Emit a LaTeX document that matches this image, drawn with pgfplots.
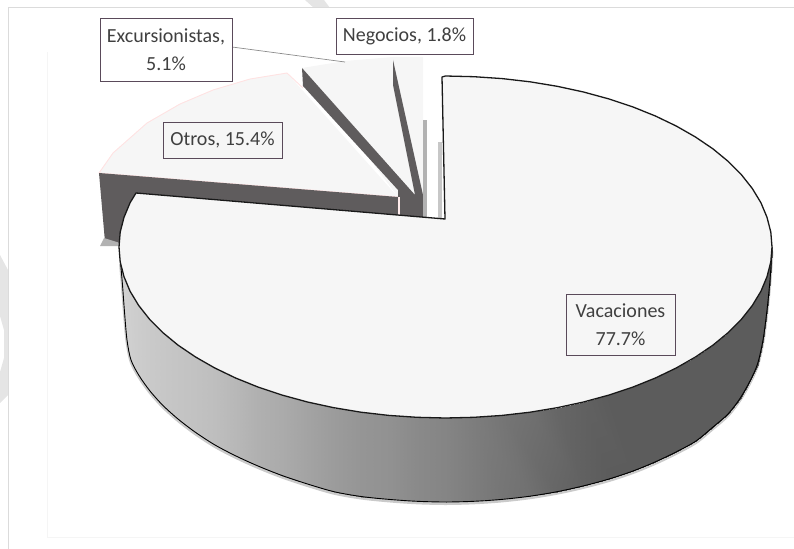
\documentclass[border=0pt]{standalone}
\usepackage{fontspec}
\setmainfont{Carlito}
\usepackage{pgfplots}
\usepackage{pgfplotstable}
\pgfplotsset{compat=1.18}
\definecolor{face}{HTML}{F6F6F6}
\definecolor{slicedark}{HTML}{5F5C5D}
\definecolor{boxline}{HTML}{5A4A5A}
\definecolor{txt}{HTML}{404040}
\tikzset{lbl/.style={draw=boxline, line width=0.9bp, text=txt, inner sep=0pt, align=center,
    font=\fontsize{20bp}{27.5bp}\selectfont}}

% wall of the big slice: rim point, foot point, grey value
\pgfplotstableread{
x y c
772 247 0.36
772 250 0.36
770.8 261.9 0.36
770 280 0.36
767 276.7 0.36
767 310 0.36
760.9 291.3 0.36
763 340 0.36
752.3 305.5 0.36
757.5 364 0.36
741.4 319.3 0.36
750 381 0.36
728.3 332.5 0.36
740 398.5 0.36
713 345.1 0.36
728 414 0.36
695.6 356.9 0.36
713 427 0.36
676.4 367.9 0.36
696 441 0.36
655.4 378 0.36
676 452 0.36
632.8 387.1 0.36
655 462 0.36
608.8 395.1 0.36
633 471 0.36
583.5 402 0.38
609 479 0.36
557.2 407.7 0.40
583 486 0.38
530 412.2 0.44
557 491.7 0.40
502.2 415.4 0.46
530 496.2 0.44
474 417.3 0.49
502 499.4 0.46
445.5 418 0.52
445.5 502 0.52
417 417.3 0.54
417 501.3 0.54
388.8 415.4 0.57
389 499.4 0.57
361 412.2 0.585
361 496.5 0.585
333.8 407.7 0.61
334 491.7 0.61
307.5 402 0.64
307.5 484 0.64
282.2 395.1 0.67
282 475.5 0.67
258.2 387.1 0.69
258 466 0.69
235.6 378 0.72
236 456 0.72
214.6 367.9 0.745
215 445 0.745
195.4 356.9 0.76
195 432 0.76
178 345.1 0.77
178 419 0.77
162.7 332.5 0.78
163 405.5 0.78
149.6 319.3 0.79
150 391 0.79
138.7 305.5 0.80
139 375.5 0.80
130.1 291.3 0.81
131 360 0.81
124 276.7 0.82
127 340 0.82
120.2 261.9 0.82
124.5 312 0.82
119 247 0.82
122.5 285 0.82
120.2 232.1 0.82
120.5 262 0.82
}\wall

% foot of the wall
\pgfplotstableread{
x y
772 250
770 280
767 310
763 340
757.5 364
750 381
740 398.5
728 414
713 427
696 441
676 452
655 462
633 471
609 479
583 486
557 491.7
530 496.2
502 499.4
474 501.3
445.5 502
417 501.3
389 499.4
361 496.5
334 491.7
307.5 484
282 475.5
258 466
236 456
215 445
195 432
178 419
163 405.5
150 391
139 375.5
131 360
127 340
124.5 312
122.5 285
120.5 262
}\foot

% top face of Vacaciones
\pgfplotstableread{
x y
442 77
445.5 76
474 76.7
502.2 78.6
530 81.8
557.2 86.3
583.5 92
608.8 98.9
632.8 106.9
655.4 116
676.4 126.1
695.6 137.1
713 148.9
728.3 161.5
741.4 174.7
752.3 188.5
760.9 202.7
767 217.3
770.8 232.1
772 247
770.8 261.9
767 276.7
760.9 291.3
752.3 305.5
741.4 319.3
728.3 332.5
713 345.1
695.6 356.9
676.4 367.9
655.4 378
632.8 387.1
608.8 395.1
583.5 402
557.2 407.7
530 412.2
502.2 415.4
474 417.3
445.5 418
417 417.3
388.8 415.4
361 412.2
333.8 407.7
307.5 402
282.2 395.1
258.2 387.1
235.6 378
214.6 367.9
195.4 356.9
178 345.1
162.7 332.5
149.6 319.3
138.7 305.5
130.1 291.3
124 276.7
120.2 261.9
119 247
120.2 232.1
124 217.3
130.1 202.7
136 193
445 219
442 77
}\vacaciones

\begin{document}
\begin{tikzpicture}
\begin{axis}[
    hide axis,
    scale only axis,
    width=794bp,
    height=549bp,
    xmin=0, xmax=794,
    ymin=0, ymax=549,
    y dir=reverse,
    clip=true,
    no markers,
    point meta min=0,
    point meta max=1,
    colormap={bw}{gray(0cm)=(0); gray(1cm)=(1)},
]
% page frame and watermark scraps
\addplot[draw=none, fill=black!10] coordinates {(305,0) (324,0) (330,8) (314,8)} -- cycle;
\addplot[draw=none, fill=black!10] coordinates {(0,255) (8,270) (8,395) (0,403) (0,372) (4,358) (4,330) (0,316)} -- cycle;
\addplot[black!14, line width=1bp] coordinates {(794,8) (8,8) (8,549)};
\addplot[black!4, line width=0.8bp] coordinates {(47,52) (47,537) (794,537)};

% small slices, pulled out
\addplot[draw=none, fill=face] coordinates {(302,68) (345,61) (393,57) (423,57) (423,200) (398,197)} -- cycle;
\addplot[draw=none, fill=face] coordinates {(99,173) (113,153) (147,123) (180,104) (213,90) (250,79) (287,73) (398,197)} -- cycle;
\addplot[color=pink!45, line width=0.9bp] coordinates {(398,197) (99,173) (113,153) (147,123) (180,104) (213,90) (250,79) (287,73) (303,88)};

% dark cut sides
\addplot[draw=none, fill=slicedark] coordinates {(99,173) (398,197) (398,190) (303,86) (302,68) (415,195) (393,85) (393,60) (423,195) (423,219) (140,200) (120,243) (105,242)} -- cycle;
\addplot[color=pink!30, line width=1.2bp] coordinates {(399,197) (399,216)};
\addplot[draw=none, fill=black!30] coordinates {(423,120) (427,120) (427,218) (423,218)} -- cycle;
\addplot[draw=none, fill=black!22] coordinates {(438,142) (442,142) (442,218) (438,218)} -- cycle;
\addplot[draw=none, fill=black!30] coordinates {(100,246) (104,238) (120,243) (118,246)} -- cycle;

% big slice: soft shadow, wall, top face
\addplot[black!35, line width=3bp, opacity=0.6, yshift=-1.5bp, smooth] table[x=x, y=y] {\foot};
\addplot[surf, shader=interp, mesh/cols=2, point meta=\thisrow{c}] table[x=x, y=y] {\wall};
\addplot[black, line width=0.9bp, smooth] table[x=x, y=y] {\foot};
\addplot[draw=black!90, fill=face, line width=1.3bp, line join=round] table[x=x, y=y] {\vacaciones} -- cycle;

% leader line
\addplot[black!45, line width=0.7bp] coordinates {(232,47) (345,62)};

% data labels
\node[lbl, fill=white, minimum width=132bp, minimum height=63bp] at (axis cs:166,49.5) {Excursionistas,\\5.1\%};
\node[lbl, fill=white, minimum width=137bp, minimum height=36bp] at (axis cs:404.5,36) {Negocios, 1.8\%};
\node[lbl, fill=face, minimum width=119bp, minimum height=36bp] at (axis cs:222.5,140) {Otros, 15.4\%};
\node[lbl, fill=face, minimum width=109bp, minimum height=61bp] at (axis cs:620.5,324.5) {Vacaciones\\77.7\%};
\end{axis}
\end{tikzpicture}
\end{document}
